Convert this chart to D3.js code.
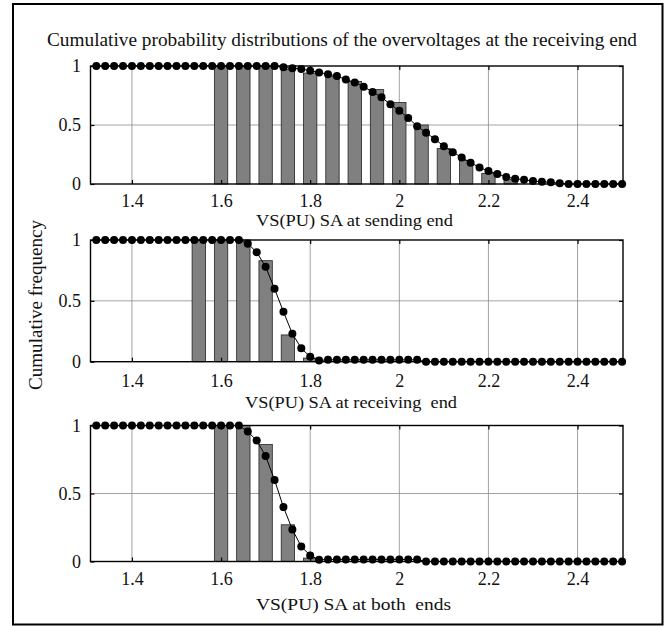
<!DOCTYPE html>
<html>
<head>
<meta charset="utf-8">
<script src="https://cdn.jsdelivr.net/npm/d3@7"></script>
<style>
  body { margin: 0; background: #fff; }
  svg text { font-family: "Liberation Serif", "Times New Roman", "DejaVu Serif", serif !important; fill: #111; white-space: pre; }
</style>
</head>
<body>
<div id="chart"></div>
<script>
// chart data
var title = "Cumulative probability distributions of the overvoltages at the receiving end";
var yLabel = "Cumulative frequency";
var panelLabels = ["VS(PU) SA at sending end", "VS(PU) SA at receiving  end", "VS(PU) SA at both  ends"];
var xTicks = [1.4, 1.6, 1.8, 2.0, 2.2, 2.4];
var yTicks = [0, 0.5, 1];

// sample voltages of the cumulative curves
var voltages = [1.32, 1.34, 1.36, 1.38, 1.40, 1.42, 1.44, 1.46, 1.48, 1.50,
    1.52, 1.54, 1.56, 1.58, 1.60, 1.62, 1.64, 1.66, 1.68, 1.70,
    1.72, 1.74, 1.76, 1.78, 1.80, 1.82, 1.84, 1.86, 1.88, 1.90,
    1.92, 1.94, 1.96, 1.98, 2.00, 2.02, 2.04, 2.06, 2.08, 2.10,
    2.12, 2.14, 2.16, 2.18, 2.20, 2.22, 2.24, 2.26, 2.28, 2.30,
    2.32, 2.34, 2.36, 2.38, 2.40, 2.42, 2.44, 2.46, 2.48, 2.50];

var sendingCdf = [1, 1, 1, 1, 1, 1, 1, 1, 1, 1,
    1, 1, 1, 1, 1, 1, 1, 1, 1, 1,
    1, 0.99, 0.98, 0.975, 0.96, 0.945, 0.93, 0.915, 0.885, 0.86,
    0.825, 0.78, 0.735, 0.675, 0.62, 0.56, 0.49, 0.435, 0.38, 0.32,
    0.27, 0.225, 0.18, 0.14, 0.11, 0.085, 0.06, 0.045, 0.035, 0.025,
    0.02, 0.014, 0.007, 0, 0, 0, 0, 0, 0, 0];

var receivingCdf = [1, 1, 1, 1, 1, 1, 1, 1, 1, 1,
    1, 1, 1, 1, 1, 1, 1, 0.97, 0.9, 0.78,
    0.6, 0.41, 0.23, 0.11, 0.04, 0.01, 0.015, 0.015, 0.015, 0.015,
    0.015, 0.015, 0.015, 0.015, 0.015, 0.015, 0.015, 0, 0, 0,
    0, 0, 0, 0, 0, 0, 0, 0, 0, 0,
    0, 0, 0, 0, 0, 0, 0, 0, 0, 0];

var bothCdf = [1, 1, 1, 1, 1, 1, 1, 1, 1, 1,
    1, 1, 1, 1, 1, 1, 1, 0.955, 0.89, 0.775,
    0.6, 0.4, 0.235, 0.11, 0.045, 0.012, 0.015, 0.015, 0.015, 0.015,
    0.015, 0.015, 0.015, 0.015, 0.015, 0.015, 0.015, 0, 0, 0,
    0, 0, 0, 0, 0, 0, 0, 0, 0, 0,
    0, 0, 0, 0, 0, 0, 0, 0, 0, 0];

// histogram bars (bin centre, cumulative frequency)
var sendingBins = [1.60, 1.65, 1.70, 1.75, 1.80, 1.85, 1.90, 1.95, 2.00, 2.05, 2.10, 2.15, 2.20, 2.25];
var sendingFreq = [1, 1, 1, 0.97, 0.94, 0.91, 0.87, 0.80, 0.69, 0.50, 0.30, 0.20, 0.09, 0.04];
var receivingBins = [1.55, 1.60, 1.65, 1.70, 1.75, 1.80];
var receivingFreq = [1, 1, 1, 0.83, 0.22, 0.03];
var bothBins = [1.60, 1.65, 1.70, 1.75, 1.80];
var bothFreq = [1, 1, 0.86, 0.27, 0.025];

var W = 667, H = 626, FS = 18;
var binWidth = 0.03;
var serif = "'Liberation Serif', 'Times New Roman', 'DejaVu Serif', serif";

var svg = d3.select("#chart").append("svg").attr("width", W).attr("height", H);

// outer frame
svg.append("rect").attr("x", 13).attr("y", 4).attr("width", 649.5).attr("height", 620.5)
    .attr("fill", "none").attr("stroke", "#000").attr("stroke-width", 2);

svg.append("text").attr("x", 342).attr("y", 45.5).attr("text-anchor", "middle")
    .attr("textLength", 590).attr("lengthAdjust", "spacingAndGlyphs")
    .style("font-family", serif).style("font-size", "19px").text(title);

svg.append("text").attr("transform", "translate(42,305) rotate(-90)").attr("text-anchor", "middle")
    .attr("textLength", 170).attr("lengthAdjust", "spacingAndGlyphs")
    .style("font-family", serif).style("font-size", FS + "px").text(yLabel);

var x = d3.scaleLinear().domain([1.307, 2.502]).range([90.5, 623]);

var panels = [
    { top: 66, bottom: 184, tickBase: 207, labelBase: 225.5, labelX: 354.5, labelW: 197, cdf: sendingCdf, bins: sendingBins, freq: sendingFreq },
    { top: 240, bottom: 361.7, tickBase: 387, labelBase: 407.5, labelX: 351, labelW: 212, cdf: receivingCdf, bins: receivingBins, freq: receivingFreq },
    { top: 425.5, bottom: 561.5, tickBase: 585, labelBase: 610, labelX: 353.5, labelW: 195, cdf: bothCdf, bins: bothBins, freq: bothFreq }
];

panels.forEach(function(p, k) {
    var y = d3.scaleLinear().domain([0, 1]).range([p.bottom, p.top]);
    var g = svg.append("g");
    var x0 = x.range()[0], x1 = x.range()[1];

    // grid
    g.selectAll("line.vg").data(xTicks).enter().append("line")
        .attr("x1", function(d) { return x(d); }).attr("x2", function(d) { return x(d); })
        .attr("y1", p.top).attr("y2", p.bottom)
        .attr("stroke", "#8a8a8a").attr("stroke-width", 0.8);
    g.selectAll("line.hg").data([0.5]).enter().append("line")
        .attr("x1", x0).attr("x2", x1)
        .attr("y1", function(d) { return y(d); }).attr("y2", function(d) { return y(d); })
        .attr("stroke", "#8a8a8a").attr("stroke-width", 0.8);

    // bars
    g.selectAll("rect.bar").data(p.bins).enter().append("rect")
        .attr("x", function(d) { return x(d - binWidth / 2); })
        .attr("width", function(d) { return x(d + binWidth / 2) - x(d - binWidth / 2); })
        .attr("y", function(d, i) { return y(p.freq[i]); })
        .attr("height", function(d, i) { return y(0) - y(p.freq[i]); })
        .attr("fill", "#808080").attr("stroke", "#222").attr("stroke-width", 0.8);

    // axes with inward ticks
    var ax = g.append("g").attr("transform", "translate(0," + p.bottom + ")")
        .call(d3.axisBottom(x).tickValues(xTicks).tickSize(-4)
            .tickPadding(p.tickBase - p.bottom - 0.71 * FS)
            .tickFormat(function(d) { return d3.format("")(+d.toFixed(1)); }));
    var axT = g.append("g").attr("transform", "translate(0," + p.top + ")")
        .call(d3.axisTop(x).tickValues(xTicks).tickSize(-4).tickFormat(""));
    var ayL = g.append("g").attr("transform", "translate(" + x0 + ",0)")
        .call(d3.axisLeft(y).tickValues(yTicks).tickSize(-4).tickPadding(9.5).tickFormat(d3.format("")));
    var ayR = g.append("g").attr("transform", "translate(" + x1 + ",0)")
        .call(d3.axisRight(y).tickValues(yTicks).tickSize(-4).tickFormat(""));
    [ax, axT, ayL, ayR].forEach(function(a) {
        a.attr("font-family", null);
        a.select(".domain").remove();
        a.selectAll("line").attr("stroke", "#000").attr("stroke-width", 1.2);
        a.selectAll("text").style("font-size", FS + "px").style("font-family", serif).attr("fill", "#111");
    });

    // box
    g.append("rect").attr("x", x0).attr("y", p.top).attr("width", x1 - x0).attr("height", p.bottom - p.top)
        .attr("fill", "none").attr("stroke", "#000").attr("stroke-width", 1.4);

    // cumulative curve with markers
    var line = d3.line().x(function(d, i) { return x(voltages[i]); }).y(function(d) { return y(d); });
    g.append("path").datum(p.cdf).attr("d", line).attr("fill", "none").attr("stroke", "#000").attr("stroke-width", 1);
    g.selectAll("circle").data(p.cdf).enter().append("circle")
        .attr("cx", function(d, i) { return x(voltages[i]); })
        .attr("cy", function(d) { return y(d); })
        .attr("r", 4).attr("fill", "#000");

    svg.append("text").attr("x", p.labelX).attr("y", p.labelBase).attr("text-anchor", "middle")
        .attr("textLength", p.labelW).attr("lengthAdjust", "spacingAndGlyphs")
        .style("font-family", serif).style("font-size", "17px").text(panelLabels[k]);
});
</script>
</body>
</html>
